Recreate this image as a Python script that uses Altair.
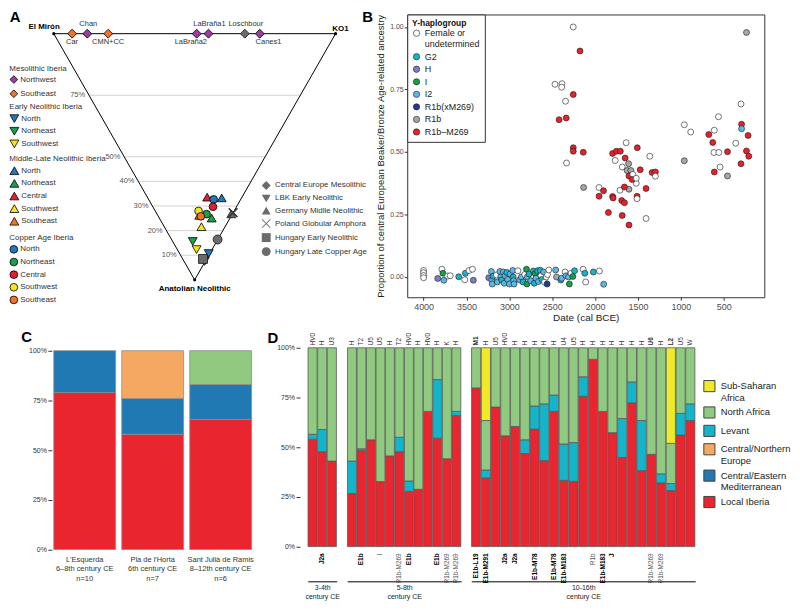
import altair as alt
import pandas as pd

S = 0.97


def P(v):
    return round(v * S, 2)


FONT = "Liberation Sans"
INK = "#333333"

# ---------------- Panel A : ternary plot ----------------
tern_period = (["Mesolithic Iberia"] * 6 + ["Early Neolithic Iberia"] * 3
               + ["Middle-Late Neolithic Iberia"] * 5 + ["Copper Age Iberia"] * 5 + ["Other"] * 6)
tern_group = ["Southeast", "Northwest", "Southeast", "Northwest", "Northwest", "Northwest",
              "North", "Northeast", "Southwest",
              "North", "Northeast", "Central", "Southwest", "Southeast",
              "North", "Northeast", "Central", "Southwest", "Southeast",
              "Central Europe Mesolithic", "LBK Early Neolithic", "Germany Midlle Neolithic",
              "Poland Globular Amphora", "Hungary Early Neolithic", "Hungary Late Copper Age"]
tern_name = ["Car", "Chan", "CMN+CC", "LaBraña2", "LaBraña1", "Canes1"] + [""] * 13 + ["Loschbour"] + [""] * 5
# hunter-gatherer share (1 - Anatolian) and KO1 share of the hunter-gatherer part
tern_hg = [1, 1, 1, 1, 1, 1,
           0.107, 0.156, 0.123,
           0.333, 0.251, 0.336, 0.216, 0.262,
           0.327, 0.267, 0.297, 0.280, 0.258,
           1.0, 0.075, 0.268, 0.273, 0.085, 0.164]
tern_ko1 = [0.065, 0.119, 0.193, 0.507, 0.549, 0.731,
            0.967, 0.456, 0.555,
            0.788, 0.741, 0.632, 0.611, 0.561,
            0.706, 0.658, 0.719, 0.549, 0.584,
            0.678, 0.974, 0.985, 1.0, 0.849, 0.996]
grid_levels = [0.10, 0.20, 0.30, 0.40, 0.50, 0.75]
vert_name = ["El Mirón", "KO1", "Anatolian Neolithic"]
vert_hg = [1, 1, 0]
vert_ko1 = [0, 1, 0.5]

region_order = ["North", "Northeast", "Central", "Southwest", "Southeast"]
region_colors = {"North": "#2179b8", "Northwest": "#9c3c9c", "Northeast": "#1ba04c",
                 "Central": "#e5202e", "Southwest": "#f4e61e", "Southeast": "#f2712c"}
other_groups = ["Central Europe Mesolithic", "LBK Early Neolithic", "Germany Midlle Neolithic",
                "Poland Globular Amphora", "Hungary Early Neolithic", "Hungary Late Copper Age"]
X_SHAPE = ("M-1,-0.86L-0.86,-1L0,-0.14L0.86,-1L1,-0.86L0.14,0L1,0.86L0.86,1"
           "L0,0.14L-0.86,1L-1,0.86L-0.14,0Z")
other_shapes = ["diamond", "triangle-down", "triangle-up", X_SHAPE, "square", "circle"]

# ---------------- Panel B : scatter ----------------
hap_names = {"F": "Female or undetermined", "G": "G2", "H": "H", "I": "I", "I2": "I2",
             "X": "R1b(xM269)", "R": "R1b", "M": "R1b–M269"}
hap_order = list(hap_names.values())
hap_colors = ["#ffffff", "#1ab2c5", "#7c7fc3", "#16a04b", "#5cb6e6", "#25398e", "#a7a7a7", "#e6212b"]

b_low_date = [4000, 4000, 4000, 4000, 3835, 3786, 3775, 3764, 3720, 3690,
              3590, 3520, 3512, 3470, 3430, 3420, 3240, 3210, 3205, 3200, 3190,
              3150, 3140, 3110, 3100, 3090, 3070, 3060, 3050, 3030, 3020,
              3000, 2990, 2960, 2955, 2950, 2945, 2900, 2880, 2860, 2840, 2820,
              2800, 2795, 2790, 2770, 2750, 2720, 2710, 2700, 2690, 2670,
              2660, 2640, 2630, 2620, 2600, 2590, 2570, 2560, 2555, 2540,
              2460, 2450, 2400, 2390, 2350, 2340, 2310, 2300, 2280, 2260,
              2240, 2140, 2120, 2110, 2020, 1950, 1900]
b_low_prop = [0.026, 0.017, 0.006, -0.003, -0.006, 0.031, 0.015, -0.013, 0.004, 0.005,
              0.001, -0.011, 0.015, 0.026, 0.031, -0.013, -0.003, 0.022, -0.012, -0.028, 0.003,
              0.008, -0.020, 0.022, 0.000, -0.012, 0.020, -0.025, 0.005, 0.018, -0.010,
              -0.028, 0.012, 0.026, 0.000, -0.015, -0.028, 0.025, -0.012, 0.000, -0.020, 0.010,
              0.031, -0.028, 0.000, 0.012, -0.015, 0.024, -0.025, 0.014, -0.005, 0.025,
              -0.018, 0.027, 0.005, -0.010, 0.020, -0.020, 0.000, -0.028, 0.010, 0.028,
              0.028, 0.000, -0.012, -0.005, 0.020, 0.005, 0.000, -0.028, 0.015, 0.002,
              0.025, 0.031, 0.015, -0.020, 0.020, 0.024, -0.029]
b_low_hap = ["F", "F", "F", "F", "H", "F", "I", "I2", "F", "F",
             "G", "F", "G", "F", "F", "H", "H", "I2", "I2", "I2", "G",
             "F", "I2", "I2", "I2", "G", "I2", "I2", "I2", "G", "I2",
             "I2", "I2", "I2", "G", "I2", "I2", "F", "I2", "I2", "G", "F",
             "I", "I", "I2", "G", "I2", "G", "G", "I", "I2", "G",
             "I2", "G", "F", "G", "I2", "F", "F", "X", "F", "F",
             "I2", "R", "G", "I2", "F", "I2", "I2", "I", "F", "I",
             "G", "F", "G", "F", "G", "F", "I2"]

b_bb_date = [2255, 2176, 2468, 2386, 2390, 2255, 2345, 2420, 2337, 2255, 2255, 2138,
             2333, 2134, 1954, 1954, 1902, 1796, 1790, 1710, 1605, 1658, 1511, 1511,
             1406, 1690, 1658, 1845, 1684, 1605, 1406, 1520,
             1796, 1751, 1706, 1766, 1638, 1650, 1609, 1684, 1627, 1582, 1605, 1560,
             1568, 1474, 1520, 1508, 1362, 1335, 1297, 1297]
b_bb_prop = [1.000, 0.904, 0.771, 0.773, 0.759, 0.730, 0.703, 0.629, 0.636, 0.517, 0.503, 0.499,
             0.456, 0.358, 0.358, 0.323, 0.345, 0.322, 0.316, 0.347, 0.351, 0.360, 0.323, 0.313,
             0.354, 0.306, 0.297, 0.258, 0.246, 0.208, 0.234, 0.375,
             0.494, 0.503, 0.503, 0.466, 0.537, 0.476, 0.453, 0.440, 0.426, 0.426, 0.404, 0.410,
             0.390, 0.429, 0.395, 0.517, 0.483, 0.418, 0.420, 0.403]
b_bb_hap = ["F", "M", "F", "F", "F", "M", "F", "M", "M", "M", "M", "M",
            "F", "R", "F", "M", "M", "M", "M", "F", "R", "M", "M", "F",
            "M", "M", "M", "M", "M", "M", "F", "F",
            "M", "M", "M", "F", "F", "M", "R", "F", "R", "R", "M", "F",
            "M", "M", "F", "M", "F", "M", "M", "F"]

b_late_date = [960, 885, 960, 562, 610, 674, 628, 614, 557, 456, 543, 610,
               456, 360, 299, 292, 292, 216, 235, 208, 299, 235]
b_late_prop = [0.609, 0.580, 0.465, 0.641, 0.587, 0.570, 0.538, 0.498, 0.498, 0.501, 0.440, 0.420,
               0.404, 0.535, 0.692, 0.611, 0.593, 0.566, 0.504, 0.483, 0.453, 0.978]
b_late_hap = ["F", "F", "R", "F", "F", "M", "M", "F", "F", "M", "F", "M",
              "R", "F", "F", "M", "I2", "M", "M", "M", "M", "R"]

# ---------------- Panels C and D : ancestry bars ----------------
comp_order = ["Sub-Saharan Africa", "North Africa", "Levant", "Central/Northern Europe",
              "Central/Eastern Mediterranean", "Local Iberia"]
comp_colors = ["#f0e92a", "#8fca80", "#14b4cb", "#f5a862", "#2079b2", "#e9252f"]

c_site = ["L'Esquerda", "Pla de l'Horta", "Sant Julià de Ramis"]
c_date = ["6–8th century CE", "6th century CE", "8–12th century CE"]
c_n = ["n=10", "n=7", "n=6"]
c_local = [79.0, 58.0, 65.4]
c_cemed = [21.0, 18.0, 17.6]
c_cneur = [0.0, 24.0, 0.0]
c_nafr = [0.0, 0.0, 17.0]

d_era = ["3-4th century CE"] * 3 + ["5-8th century CE"] * 12 + ["10-16th century CE"] * 23
d_mt = ["HV0", "H", "U3",
        "H", "T2", "U5", "U5", "H", "T2", "HV0", "H", "HV0", "H", "K", "H",
        "M1", "H", "U5", "HV0", "H", "H", "H", "H", "H", "U4", "U5", "H", "H", "H", "H",
        "H", "H", "H", "U6", "H", "L2", "U5", "W"]
d_ylab = ["", "J2a", "",
          "", "E1b", "", "I", "", "R1b-M269", "E1b", "", "", "E1b", "R1b-M269", "R1b-M269",
          "E1b-L19", "E1b-M291", "", "J2a", "J2a", "", "E1b-M78", "", "E1b-M78", "E1b-M183",
          "", "", "R1b", "E1b-M183", "J", "", "", "", "R1b-M269", "R1b-M269", "", "", ""]
d_local = [54, 47.7, 43,
           26.7, 48.5, 53.7, 32.7, 45.6, 47.7, 27.8, 28.8, 68, 54.5, 44.2, 65.9,
           79.8, 34.5, 70.2, 55.7, 60.4, 46.8, 59.1, 43.2, 68, 33.3, 32.8, 75.6, 94.2, 68, 57.3,
           44.8, 72.3, 38.2, 46.4, 32, 28.2, 56.1, 63.4]
d_levant = [2.5, 11.2, 0,
            16.3, 0.7, 0, 0, 0, 7.3, 5.2, 0, 0, 29.5, 0, 2.1,
            0, 4.0, 0, 0, 0, 6.9, 11.6, 28.6, 8.2, 18.3, 19.5, 9.8, 0, 0, 0,
            19.6, 10.5, 25.2, 0, 4.6, 3.5, 10.9, 8.4]
d_nafr = [43.5, 41.1, 57,
          57, 50.8, 46.3, 67.3, 54.4, 45, 67, 71.2, 32, 16, 55.8, 32,
          20.2, 24.9, 29.8, 44.3, 39.6, 46.3, 29.3, 28.2, 23.8, 48.4, 47.7, 14.6, 5.8, 32, 42.7,
          35.6, 17.2, 36.6, 53.6, 63.4, 20.2, 33, 28.2]
d_ssa = [0] * 15 + [0, 36.6] + [0] * 18 + [48.1, 0, 0]

# ======================= build panel A =======================
tern_df = pd.DataFrame({"period": tern_period, "group": tern_group, "name": tern_name,
                        "hg": tern_hg, "ko1": tern_ko1})
TX = "0.5 + datum.hg * (datum.ko1 - 0.5)"
A_W = 308
xA = alt.X("X:Q", scale=alt.Scale(domain=[0, A_W / 292], nice=False, zero=False), axis=None)
yA = alt.Y("Y:Q", scale=alt.Scale(domain=[-0.0706, 1.078], nice=False, zero=False), axis=None)
tbase = alt.Chart(tern_df).transform_calculate(X=TX, Y="datum.hg")

gbase = alt.Chart(pd.DataFrame({"lvl": grid_levels})).transform_calculate(
    X="0.5 - 0.5 * datum.lvl", X2="0.5 + 0.5 * datum.lvl", Y="datum.lvl",
    lab="format(datum.lvl, '.0%')")
grid = gbase.mark_rule(color="#d2d2d2", strokeWidth=1).encode(x=xA, x2="X2:Q", y=yA)
grid_lab = gbase.mark_text(align="right", baseline="middle", dx=P(-4), fontSize=7.5,
                           color="#555555").encode(x=xA, y=yA, text="lab:N")

vert_df = pd.DataFrame({"v": vert_name + vert_name[:1], "hg": vert_hg + vert_hg[:1],
                        "ko1": vert_ko1 + vert_ko1[:1], "k": list(range(len(vert_name) + 1))})
vbase = alt.Chart(vert_df).transform_calculate(X=TX, Y="datum.hg")
edges = vbase.mark_line(color="black", strokeWidth=1).encode(x=xA, y=yA, order="k:Q")
vpts = vbase.transform_filter("datum.k < 3")
dots = vpts.mark_circle(color="black", size=10, opacity=1).encode(x=xA, y=yA)
lab_mir = vpts.transform_filter(alt.datum.v == "El Mirón").mark_text(
    dx=P(-10), dy=P(-7), fontWeight="bold", fontSize=8, color="black").encode(x=xA, y=yA, text="v:N")
lab_ko1 = vpts.transform_filter(alt.datum.v == "KO1").mark_text(
    dx=P(5), dy=P(-5), fontWeight="bold", fontSize=8, color="black").encode(x=xA, y=yA, text="v:N")
lab_ana = vpts.transform_filter(alt.datum.v == "Anatolian Neolithic").mark_text(
    dy=P(9), fontWeight="bold", fontSize=8, color="black").encode(x=xA, y=yA, text="v:N")


def top_labels(names, dx, dy):
    return tbase.transform_filter(alt.FieldOneOfPredicate(field="name", oneOf=names)).mark_text(
        dx=P(dx), dy=P(dy), fontSize=7.5, color=INK).encode(x=xA, y=yA, text="name:N")


t_above = top_labels(["Chan", "LaBraña1", "Loschbour"], 1, -10)
t_below = top_labels(["Car", "CMN+CC"], 0, 9)
t_below_l = top_labels(["LaBraña2"], -6, 9)
t_below_r = top_labels(["Canes1"], 9, 9)


def a_legend(title, ly, shape, size, pad):
    return alt.Legend(title=title, orient="none", legendX=P(-46), legendY=P(ly),
                      symbolType=shape, symbolSize=size, symbolStrokeColor="black",
                      symbolStrokeWidth=0.8, titleFont=FONT, titleFontSize=8,
                      titleFontWeight="normal", titleColor=INK, titlePadding=P(2.5),
                      labelFont=FONT, labelFontSize=8, labelColor=INK, labelOffset=P(2),
                      rowPadding=pad)


def iberia(period, shape, regions, ly, size, leg_size, pad):
    return tbase.transform_filter(alt.datum.period == period).mark_point(
        shape=shape, filled=True, size=size, stroke="black", strokeWidth=0.8, opacity=1
    ).encode(x=xA, y=yA, fill=alt.Fill(
        "group:N", scale=alt.Scale(domain=regions, range=[region_colors[r] for r in regions]),
        legend=a_legend(period, ly, shape, leg_size, pad)))


meso = iberia("Mesolithic Iberia", "diamond", ["Northwest", "Southeast"], 52, 80, 60, 3.3)
early = iberia("Early Neolithic Iberia", "triangle-down", ["North", "Northeast", "Southwest"], 92, 80, 80, 0.7)
mln = iberia("Middle-Late Neolithic Iberia", "triangle-up", region_order, 146, 80, 80, 0.7)
copper = iberia("Copper Age Iberia", "circle", region_order, 228, 60, 60, 1.7)
other = tbase.transform_filter(alt.datum.period == "Other").mark_point(
    filled=True, color="#6b6b6b", stroke="#222222", strokeWidth=0.9, size=80, opacity=1
).encode(x=xA, y=yA, shape=alt.Shape(
    "group:N", scale=alt.Scale(domain=other_groups, range=other_shapes),
    legend=alt.Legend(title=None, orient="none", legendX=P(215), legendY=P(172),
                      symbolSize=80, symbolStrokeColor="#222222", symbolStrokeWidth=0.9,
                      symbolFillColor="#6b6b6b", labelFont=FONT, labelFontSize=8,
                      labelColor=INK, labelOffset=P(4), rowPadding=0.1)))


def letter(t, lx, ly):
    return alt.Chart(pd.DataFrame({"t": [t]})).mark_text(
        fontSize=15, fontWeight="bold", color="black", align="center", baseline="middle"
    ).encode(text="t:N", x=alt.value(P(lx)), y=alt.value(P(ly)))


def anchor(x1, y1, x2, y2):
    # invisible guide that fixes how far a row reaches, so the two rows line up
    return alt.Chart(pd.DataFrame({"a": [0]})).mark_rule(opacity=0).encode(
        x=alt.value(P(x1)), y=alt.value(P(y1)), x2=alt.value(P(x2)), y2=alt.value(P(y2)))


panelA = alt.layer(anchor(-47, 0, 0, 324), grid, grid_lab, edges, dots, lab_mir, lab_ko1, lab_ana,
                   t_above, t_below, t_below_l, t_below_r,
                   other, meso, early, mln, copper, letter("A", -40, 3)).properties(
    width=P(A_W), height=P(293)).resolve_scale(
    fill="independent", shape="independent").resolve_legend(fill="independent", shape="independent")

# ======================= build panel B =======================
b_df = pd.DataFrame({"date": b_low_date + b_bb_date + b_late_date,
                     "prop": b_low_prop + b_bb_prop + b_late_prop,
                     "hap": [hap_names[c] for c in b_low_hap + b_bb_hap + b_late_hap]})
xB = alt.X("date:Q", scale=alt.Scale(domain=[27, 4191], reverse=True, nice=False, zero=False),
           axis=alt.Axis(values=[4000, 3500, 3000, 2500, 2000, 1500, 1000, 500], format="d",
                         title="Date (cal BCE)", domain=False, grid=False, tickSize=3,
                         tickColor="#333333", labelFontSize=9, labelColor="#4d4d4d",
                         labelPadding=2, titleFontSize=10, titleFontWeight="normal",
                         titleColor="#222222", titlePadding=1))
yB = alt.Y("prop:Q", scale=alt.Scale(domain=[-0.081, 1.050], nice=False, zero=False),
           axis=alt.Axis(values=[0, 0.25, 0.5, 0.75, 1.0], format=".2f",
                         title="Proportion of central European Beaker/Bronze Age-related ancestry",
                         domain=False, grid=False, tickSize=3, tickColor="#333333",
                         labelFontSize=7, labelColor="#4d4d4d", labelPadding=1,
                         titleFontSize=9.5, titleFontWeight="normal", titleColor="#222222",
                         titlePadding=4))
b_leg = alt.Legend(title="Y-haplogroup", orient="top-left", offset=0, padding=P(5),
                   strokeColor="#333333", fillColor="white", titleFont=FONT, titleFontSize=8.5,
                   titleFontWeight="bold", titleColor="#111111", titlePadding=1,
                   labelFont=FONT, labelFontSize=9, labelColor="#222222", labelOffset=P(4),
                   symbolType="circle", symbolSize=40,
                   symbolStrokeColor="#1a1a1a", symbolStrokeWidth=0.6, rowPadding=2.6,
                   labelExpr="datum.label == 'Female or undetermined' ? ['Female or', 'undetermined'] : datum.label")
b_pts = alt.Chart(b_df).mark_point(shape="circle", filled=True, size=36, stroke="#1a1a1a",
                                   strokeWidth=0.6, opacity=1).encode(
    x=xB, y=yB, fill=alt.Fill("hap:N", scale=alt.Scale(domain=hap_order, range=hap_colors), legend=b_leg))
panelB = alt.layer(b_pts, letter("B", -41, 3)).properties(
    width=P(370), height=P(293), view=alt.ViewBackground(stroke="#333333", strokeWidth=1))

# ======================= build panel C =======================
stack_index = {c: len(comp_order) - 1 - i for i, c in enumerate(comp_order)}
c_labels = [f"{s}\n{d}\n{n}" for s, d, n in zip(c_site, c_date, c_n)]
c_rows = []
for i, lab in enumerate(c_labels):
    for comp, vals in [("Local Iberia", c_local), ("Central/Eastern Mediterranean", c_cemed),
                       ("Central/Northern Europe", c_cneur), ("North Africa", c_nafr)]:
        if vals[i] > 0:
            c_rows.append({"lab": lab, "comp": comp, "val": vals[i] / 100.0, "cidx": stack_index[comp]})
c_long = pd.DataFrame(c_rows)

pct_axis = dict(values=[0, 0.25, 0.5, 0.75, 1.0], format=".0%", title=None, domain=False, grid=False,
                tickSize=4, tickColor="#333333", labelFontSize=7, labelColor=INK, labelPadding=1.5)
c_bars = alt.Chart(c_long).mark_bar(stroke="#8c8c8c", strokeWidth=0.8).encode(
    x=alt.X("lab:N", sort=c_labels, scale=alt.Scale(paddingInner=0.09, paddingOuter=0),
            axis=alt.Axis(title=None, labelExpr="split(datum.label, '\\n')", labelAngle=0,
                          ticks=False, domain=False, labelFontSize=7.5, labelColor=INK,
                          labelPadding=P(6), labelLineHeight=9.5, labelLimit=200)),
    y=alt.Y("val:Q", stack="zero", scale=alt.Scale(domain=[0, 1.0146], nice=False, zero=False),
            axis=alt.Axis(offset=P(2), **pct_axis)),
    fill=alt.Fill("comp:N", scale=alt.Scale(domain=comp_order, range=comp_colors), legend=None),
    order=alt.Order("cidx:Q"))
panelC = alt.layer(anchor(-47, -20, 0, 0), c_bars, letter("C", -28, -11)).properties(
    width=P(205), height=P(209))

# ======================= build panel D =======================
d_sid = [f"{i:02d}|{m}" for i, m in enumerate(d_mt)]
d_bar = pd.DataFrame({"sid": d_sid, "era": d_era, "ylab": d_ylab})
d_rows = []
for i, sid in enumerate(d_sid):
    for comp, vals in [("Local Iberia", d_local), ("Levant", d_levant),
                       ("North Africa", d_nafr), ("Sub-Saharan Africa", d_ssa)]:
        if vals[i] > 0:
            d_rows.append({"sid": sid, "era": d_era[i], "comp": comp, "val": vals[i] / 100.0,
                           "cidx": stack_index[comp]})
d_long = pd.DataFrame(d_rows)

NORMAL_Y = "datum.ylab == 'I' || indexof(datum.ylab, 'R1b') == 0"
top_axis = alt.Axis(orient="top", title=None, labelExpr="split(datum.label, '|')[1]", labelAngle=270,
                    labelAlign="left", labelBaseline="middle", ticks=False, domain=False,
                    labelFontSize=6.5, labelColor=INK, labelPadding=P(3),
                    labelFontWeight={"condition": {"test": "indexof(['M1', 'U6', 'L2'], split(datum.label, '|')[1]) >= 0",
                                                   "value": "bold"}, "value": "normal"})
d_legend = alt.Legend(title=None, orient="none", legendX=P(240), legendY=P(33), symbolType="square",
                      symbolSize=125, symbolStrokeColor="#444444", symbolStrokeWidth=1,
                      labelFont=FONT, labelFontSize=9.5, labelColor="#222222", labelOffset=P(5),
                      rowPadding=1.5,
                      labelExpr="datum.label == 'Sub-Saharan Africa' ? ['Sub-Saharan', 'Africa'] : "
                                "datum.label == 'Central/Northern Europe' ? ['Central/Northern', 'Europe'] : "
                                "datum.label == 'Central/Eastern Mediterranean' ? ['Central/Eastern', 'Mediterranean'] : datum.label")


def d_panel(era, width, first, last):
    sub = d_long[d_long.era == era]
    labs = d_bar[d_bar.era == era]
    bars = alt.Chart(sub).mark_bar(stroke="#5a5a5a", strokeWidth=0.8).encode(
        x=alt.X("sid:N", scale=alt.Scale(paddingInner=0.06, paddingOuter=0.03), axis=top_axis),
        y=alt.Y("val:Q", stack="zero", scale=alt.Scale(domain=[-0.0146, 1.0], nice=False, zero=False),
                axis=(alt.Axis(offset=P(8), **pct_axis) if first else None)),
        fill=alt.Fill("comp:N", scale=alt.Scale(domain=comp_order, range=comp_colors),
                      legend=(d_legend if last else None)),
        order=alt.Order("cidx:Q"))
    ybase = alt.Chart(labs).transform_filter("datum.ylab != ''")
    bold = ybase.transform_filter("!(" + NORMAL_Y + ")").mark_text(
        angle=270, align="right", baseline="middle", fontSize=6.5, fontWeight="bold", color="black"
    ).encode(x=alt.X("sid:N", axis=alt.Axis(orient="bottom", offset=P(33), labels=False, ticks=False,
                                             domain=True, domainColor="black", domainWidth=1,
                                             title=era.split(" ", 1), titleFontSize=7,
                                             titleFontWeight="normal", titleColor="#222222",
                                             titlePadding=P(2), titleLineHeight=9.5)),
             y=alt.value(P(213)), text="ylab:N")
    normal = ybase.transform_filter(NORMAL_Y).mark_text(
        angle=270, align="right", baseline="middle", fontSize=6.5, fontWeight="normal", color="#555555"
    ).encode(x=alt.X("sid:N", axis=None), y=alt.value(P(213)), text="ylab:N")
    layers = [bars, bold, normal] + ([letter("D", -36, -10)] if first else [])
    return alt.layer(*layers).properties(width=P(width), height=P(209)).resolve_axis(x="independent")


D1 = d_panel("3-4th century CE", 30, True, False)
D2 = d_panel("5-8th century CE", 118, False, False)
D3 = d_panel("10-16th century CE", 232, False, True)

RS = dict(fill="independent", shape="independent")
panelD = alt.hconcat(D1, D2, D3, spacing=P(10), bounds="flush").resolve_scale(**RS).resolve_legend(**RS)
row1 = alt.hconcat(panelA, panelB, spacing=P(58), bounds="flush").resolve_scale(**RS).resolve_legend(**RS)
row2 = alt.hconcat(panelC, panelD, spacing=P(58), bounds="flush").resolve_scale(**RS).resolve_legend(**RS)

chart = alt.vconcat(row1, row2, spacing=0, bounds="full").resolve_scale(**RS).resolve_legend(**RS)
chart = chart.properties(padding=0).configure(font=FONT).configure_view(stroke=None)

chart.save("out.html", embed_options={"renderer": "svg", "actions": False})
